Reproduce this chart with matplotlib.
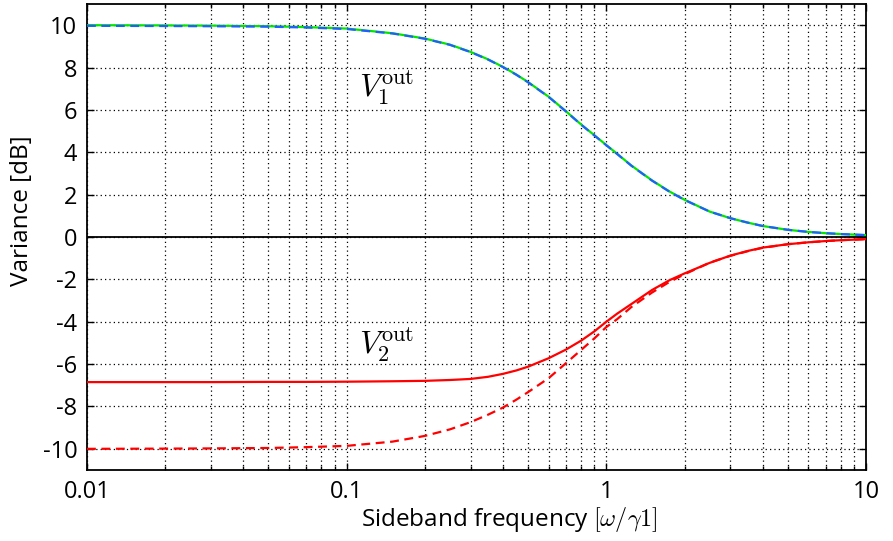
import matplotlib
matplotlib.use("Agg")
import matplotlib.pyplot as plt
import numpy as np

plt.rcParams['font.family'] = ['Open Sans', 'DejaVu Sans']
plt.rcParams['mathtext.fontset'] = 'cm'
plt.rcParams['axes.unicode_minus'] = False

# sideband frequency (omega / gamma1)
freq = [0.01, 0.02, 0.03, 0.05, 0.07, 0.1, 0.15, 0.2, 0.25, 0.3, 0.35, 0.4,
        0.45, 0.5, 0.6, 0.7, 0.8, 0.9, 1.0, 1.1, 1.25, 1.5, 1.75, 2.0, 2.5,
        3.0, 3.5, 4.0, 5.0, 6.0, 7.0, 8.0, 10.0]

# V1 out, green solid
v1_solid = [10.0, 9.99, 9.98, 9.95, 9.91, 9.84, 9.62, 9.37, 9.08, 8.74, 8.39,
            8.03, 7.67, 7.31, 6.62, 5.93, 5.31, 4.80, 4.34, 3.93, 3.37, 2.67,
            2.15, 1.76, 1.20, 0.89, 0.68, 0.52, 0.34, 0.24, 0.18, 0.14, 0.09]
# V1 out, blue dashed
v1_dashed = [9.97, 9.96, 9.95, 9.93, 9.89, 9.82, 9.61, 9.36, 9.07, 8.73, 8.38,
             8.02, 7.66, 7.30, 6.61, 5.92, 5.30, 4.79, 4.33, 3.92, 3.36, 2.66,
             2.14, 1.75, 1.20, 0.89, 0.68, 0.52, 0.34, 0.24, 0.18, 0.14, 0.09]
# V2 out, red solid
v2_solid = [-6.85, -6.85, -6.85, -6.84, -6.84, -6.83, -6.81, -6.79, -6.75,
            -6.70, -6.60, -6.46, -6.30, -6.12, -5.72, -5.31, -4.89, -4.45,
            -4.00, -3.62, -3.16, -2.50, -2.04, -1.72, -1.22, -0.88, -0.66,
            -0.50, -0.34, -0.25, -0.19, -0.15, -0.10]
# V2 out, red dashed
v2_dashed = [-10.0, -9.99, -9.98, -9.96, -9.92, -9.86, -9.66, -9.39, -9.08,
             -8.74, -8.39, -8.05, -7.68, -7.32, -6.66, -5.95, -5.33, -4.78,
             -4.25, -3.88, -3.30, -2.62, -2.12, -1.76, -1.21, -0.89, -0.67,
             -0.51, -0.34, -0.25, -0.19, -0.15, -0.10]

yticks = [10, 8, 6, 4, 2, 0, -2, -4, -6, -8, -10]
xticks = [0.01, 0.1, 1, 10]
xticklabels = ['0.01', '0.1', '1', '10']

fig = plt.figure(figsize=(8.93, 5.41), dpi=100)
ax = fig.add_axes([0.0974, 0.1312, 0.8724, 0.8614])

ax.axhline(0, color='black', lw=1.3, zorder=2)
ax.plot(freq, v1_solid, color='#00e600', lw=1.6, zorder=3)
ax.plot(freq, v1_dashed, color='#1f5fff', lw=1.6, dashes=(4, 2.5), zorder=4)
ax.plot(freq, v2_solid, color='#ff0000', lw=1.6, zorder=3)
ax.plot(freq, v2_dashed, color='#ff0000', lw=1.6, dashes=(4, 2.5), zorder=3)

ax.set_xscale('log')
ax.set_xlim(0.01, 10)
ax.set_ylim(-11, 11)
ax.set_xticks(xticks)
ax.set_xticklabels(xticklabels)
ax.set_yticks(yticks)

ax.grid(True, which='major', axis='both', color='black', ls=(0, (1, 2.5)), lw=0.9)
ax.grid(True, which='minor', axis='x', color='black', ls=(0, (1, 2.5)), lw=0.9)

ax.tick_params(which='both', direction='in', top=True, right=True,
               labelsize=17, width=1.0)
ax.tick_params(which='major', length=5, pad=7)
ax.tick_params(which='minor', length=3)
for s in ax.spines.values():
    s.set_linewidth(1.3)

ax.text(0.384, 0.82, r'$V_1^{\rm out}$', transform=ax.transAxes,
        fontsize=23, ha='center', va='center')
ax.text(0.384, 0.268, r'$V_2^{\rm out}$', transform=ax.transAxes,
        fontsize=23, ha='center', va='center')

ax.set_xlabel(r'Sideband frequency $[\omega/\gamma1]$', fontsize=17.5, va='center')
ax.set_ylabel('Variance [dB]', fontsize=17.5, va='center')
ax.xaxis.set_label_coords(0.542, -0.107)
ax.yaxis.set_label_coords(-0.083, 0.556)

fig.savefig('out.png', dpi=100)
